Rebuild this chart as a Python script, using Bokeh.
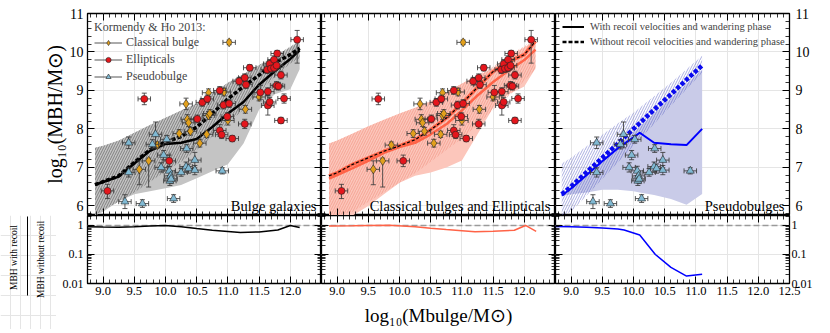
import numpy as np
import pandas as pd
from bokeh.plotting import figure
from bokeh.layouts import column, row
from bokeh.models import (ColumnDataSource, Range1d, LinearAxis, LogAxis, FixedTicker,
                          CustomJSTickFormatter, NumeralTickFormatter, Span, Label,
                          Legend, LegendItem)
from bokeh.core.properties import value
from bokeh.embed import file_html
from bokeh.resources import INLINE

# ---------------- data ----------------
# Kormendy & Ho 2013: classical bulges
cb_x = [9.58, 9.73, 9.87, 10.22, 10.33, 10.35, 10.37, 10.40, 10.55, 10.66, 10.69, 10.71, 10.69, 10.94, 11.00, 11.02, 11.28, 11.50]
cb_y = [6.95, 7.17, 7.58, 7.88, 8.65, 8.25, 8.16, 7.94, 7.63, 7.86, 8.35, 8.40, 8.94, 8.96, 8.22, 10.25, 8.51, 8.83]
cb_elo = [0.40, 0.68, 0.08, 0.10, 0.15, 0.12, 0.10, 0.10, 0.10, 0.08, 0.10, 0.10, 0.10, 0.10, 0.12, 0.06, 0.10, 0.10]
cb_ehi = [0.22, 0.07, 0.08, 0.10, 0.15, 0.12, 0.10, 0.10, 0.10, 0.08, 0.10, 0.10, 0.10, 0.10, 0.12, 0.06, 0.10, 0.10]

# ellipticals
el_x = [9.07, 9.66, 10.06, 10.51, 10.59, 10.67, 10.87, 10.87, 10.90, 10.93, 10.99, 11.02, 11.07, 11.18, 11.27,
        11.27, 11.29, 11.35, 11.52, 11.63, 11.64, 11.64, 11.67, 11.67, 11.69, 11.74, 11.74, 11.78, 11.78, 11.79,
        11.81, 11.85, 11.85, 11.90, 12.11]
el_y = [6.39, 8.78, 7.17, 8.26, 8.69, 8.78, 9.00, 7.96, 7.85, 8.62, 8.32, 8.66, 7.75, 9.24, 9.33,
        8.13, 9.15, 9.59, 8.95, 9.54, 8.97, 8.61, 8.70, 9.69, 9.57, 9.80, 9.59, 9.65, 9.13, 9.96,
        9.11, 9.40, 8.22, 8.79, 10.32]
el_elo = [0.20, 0.15, 0.15, 0.10, 0.10, 0.10, 0.10, 0.15, 0.10, 0.10, 0.10, 0.10, 0.08, 0.10, 0.10,
          0.12, 0.10, 0.08, 0.18, 0.10, 0.10, 0.25, 0.12, 0.10, 0.10, 0.10, 0.10, 0.10, 0.10, 0.08,
          0.10, 0.10, 0.08, 0.12, 0.61]
el_ehi = [0.17, 0.15, 0.15, 0.10, 0.10, 0.10, 0.10, 0.15, 0.10, 0.10, 0.10, 0.10, 0.08, 0.10, 0.10,
          0.12, 0.10, 0.08, 0.18, 0.10, 0.10, 0.25, 0.12, 0.10, 0.10, 0.10, 0.10, 0.10, 0.10, 0.08,
          0.10, 0.10, 0.08, 0.12, 0.24]

# pseudobulges
pb_x = [9.35, 9.41, 9.41, 9.63, 9.79, 9.84, 9.93, 9.97, 10.02, 10.06, 10.08, 10.07, 10.09, 10.13, 10.25,
        10.34, 10.33, 10.37, 10.47, 10.47, 10.91]
pb_y = [6.11, 7.64, 6.87, 6.06, 7.60, 7.86, 7.00, 7.32, 7.73, 6.91, 6.78, 6.65, 6.70, 6.19, 6.87,
        7.49, 7.02, 6.97, 7.19, 6.93, 6.91]
pb_elo = [0.18, 0.15, 0.12, 0.10, 0.12, 0.35, 0.12, 0.12, 0.10, 0.12, 0.12, 0.12, 0.12, 0.10, 0.10,
          0.10, 0.12, 0.12, 0.20, 0.12, 0.08]
pb_ehi = [0.18, 0.15, 0.12, 0.10, 0.12, 0.32, 0.12, 0.12, 0.10, 0.12, 0.12, 0.12, 0.12, 0.10, 0.10,
          0.10, 0.12, 0.12, 0.20, 0.12, 0.08]
x_err = 0.1

# model, bulge galaxies (panel 1)
m1_x = [8.87, 9.0, 9.25, 9.5, 9.75, 10.0, 10.25, 10.5, 10.75, 11.0, 11.25, 11.5, 11.75, 12.0, 12.15]
m1_with = [6.55, 6.62, 6.76, 7.10, 7.43, 7.61, 7.64, 7.74, 8.05, 8.40, 8.70, 9.15, 9.50, 9.82, 10.04]
m1_without = [6.55, 6.63, 6.78, 7.13, 7.46, 7.66, 7.80, 8.05, 8.40, 8.78, 9.10, 9.40, 9.72, 9.93, 10.10]
m1_with_hi = [7.51, 7.56, 7.70, 7.90, 8.10, 8.29, 8.48, 8.66, 8.92, 9.20, 9.43, 9.66, 9.88, 10.12, 10.28]
m1_with_lo = [5.75, 5.85, 6.12, 6.30, 6.38, 6.46, 6.54, 6.72, 6.90, 7.08, 7.62, 8.50, 8.90, 9.03, 9.55]
m1_wo_hi = [7.51, 7.56, 7.70, 7.90, 8.10, 8.29, 8.48, 8.66, 8.92, 9.20, 9.43, 9.66, 9.90, 10.14, 10.32]
m1_wo_lo = [5.75, 5.90, 6.10, 6.35, 6.62, 6.90, 7.15, 7.45, 7.80, 8.15, 8.50, 8.95, 9.35, 9.70, 9.84]

# model, classical bulges and ellipticals (panel 2)
m2_x = [8.87, 9.0, 9.25, 9.5, 9.75, 10.0, 10.25, 10.5, 10.75, 11.0, 11.25, 11.5, 11.75, 12.0, 12.18]
m2_with = [6.71, 6.80, 6.98, 7.17, 7.38, 7.53, 7.64, 7.86, 8.12, 8.48, 8.87, 9.22, 9.52, 9.79, 10.06]
m2_without = [6.78, 6.86, 7.08, 7.25, 7.42, 7.56, 7.72, 7.98, 8.28, 8.66, 9.08, 9.49, 9.75, 9.93, 10.28]
m2_with_hi = [7.62, 7.70, 7.88, 8.07, 8.24, 8.40, 8.55, 8.72, 8.95, 9.18, 9.38, 9.58, 9.88, 10.12, 10.30]
m2_with_lo = [5.75, 5.75, 5.75, 6.00, 6.30, 6.60, 6.78, 6.87, 7.00, 7.18, 7.86, 8.55, 8.90, 9.10, 9.58]
m2_wo_hi = [7.62, 7.70, 7.88, 8.07, 8.24, 8.40, 8.55, 8.72, 8.95, 9.18, 9.40, 9.62, 9.92, 10.15, 10.38]
m2_wo_lo = [5.75, 5.75, 5.85, 6.10, 6.35, 6.60, 6.85, 7.15, 7.45, 7.75, 8.10, 8.50, 8.85, 9.25, 9.55]

# model, pseudobulges (panel 3)
m3_x = [8.85, 9.0, 9.25, 9.5, 9.75, 10.0, 10.1, 10.33, 10.6, 10.85, 11.1]
m3_with = [6.27, 6.45, 6.80, 7.16, 7.50, 7.78, 7.90, 7.64, 7.60, 7.58, 8.00]
m3_without = [6.30, 6.50, 6.88, 7.25, 7.62, 8.00, 8.15, 8.50, 8.90, 9.28, 9.65]
m3_with_hi = [6.30, 6.50, 6.85, 7.20, 7.55, 7.90, 8.05, 8.40, 8.80, 9.17, 9.54]
m3_with_lo = [6.25, 6.30, 6.35, 6.42, 6.42, 6.38, 6.35, 6.28, 6.18, 6.03, 6.31]
m3_wo_hi = [7.10, 7.25, 7.55, 7.85, 8.15, 8.42, 8.55, 8.85, 9.20, 9.55, 9.90]
m3_wo_lo = [5.75, 5.85, 6.27, 6.70, 7.13, 7.56, 7.73, 8.13, 8.60, 9.03, 9.46]

# ratio M_BH(with recoil) / M_BH(without recoil)
r1_x = [8.75, 9.0, 9.25, 9.5, 9.75, 10.0, 10.25, 10.5, 10.75, 11.0, 11.2, 11.5, 11.8, 12.0, 12.15]
r1 = [0.91, 0.88, 0.87, 0.90, 0.95, 1.00, 0.90, 0.78, 0.68, 0.62, 0.57, 0.60, 0.70, 1.00, 0.85]
r2_x = [8.87, 9.25, 9.5, 9.84, 10.25, 10.5, 10.75, 11.0, 11.21, 11.5, 11.84, 12.02, 12.19]
r2 = [0.95, 0.97, 1.00, 1.02, 0.90, 0.80, 0.72, 0.66, 0.61, 0.63, 0.68, 1.00, 0.62]
r3_x = [8.75, 9.0, 9.25, 9.5, 9.75, 9.85, 10.1, 10.35, 10.6, 10.85, 11.1]
r3 = [0.92, 0.90, 0.86, 0.82, 0.75, 0.70, 0.47, 0.10, 0.036, 0.018, 0.021]

# ticks
x_major = [9.0, 9.5, 10.0, 10.5, 11.0, 11.5, 12.0, 12.5]
x_minor = [round(8.8 + 0.1 * i, 1) for i in range(38)]
y_major = [6, 7, 8, 9, 10, 11]
y_minor = [round(5.8 + 0.2 * i, 1) for i in range(27)]
r_major = [0.01, 0.1, 1.0]
r_minor = [k * 10.0 ** e for e in (-2, -1, 0) for k in range(2, 10)]

panel_names = ["Bulge galaxies", "Classical bulges and Ellipticals", "Pseudobulges"]
ratio_texts = ["MBH with recoil", "MBH without recoil"]

# ---------------- style ----------------
SERIF = "Liberation Serif"
X_LIM = (8.75, 12.5)
Y_TOP = (5.75, 11.0)
Y_BOT = (0.01, 2.2)
FW, TH, BH, BB = 234, 202, 68, 46
LAB_W = 56
CB_C, EL_C, PB_C = "#E2A01C", "#E5161C", "#80B9D3"
EB_C = "#3a3a3a"
BLANK = CustomJSTickFormatter(code="return ''")


def make_fig(top, col):
    left = 0
    if col == 0:
        left = 87 if top else 87 - LAB_W
    p = figure(frame_width=FW, frame_height=TH if top else BH,
               x_range=Range1d(*X_LIM), y_range=Range1d(*(Y_TOP if top else Y_BOT)),
               y_axis_type="linear" if top else "log",
               x_axis_location=None, y_axis_location=None,
               output_backend="svg", toolbar_location=None,
               min_border_left=left,
               min_border_right=38 if col == 2 else 0,
               min_border_top=13 if top else 0,
               min_border_bottom=0 if top else BB)
    p.outline_line_color = "black"
    p.outline_line_width = 1.3
    p.background_fill_color = "white"
    p.border_fill_color = "white"
    return p


def add_axis(p, side, log, major, minor, labels, fixed=None, fmt=None, fsize="12px"):
    ax = (LogAxis if log else LinearAxis)(ticker=FixedTicker(ticks=major, minor_ticks=minor))
    if fixed is not None:
        ax.fixed_location = fixed
    ax.axis_line_color = None
    ax.major_tick_in, ax.major_tick_out = 7, 0
    ax.minor_tick_in, ax.minor_tick_out = 4, 0
    ax.major_tick_line_color = "black"
    ax.minor_tick_line_color = "black"
    ax.major_tick_line_width = 1
    ax.minor_tick_line_width = 0.8
    ax.major_label_text_font = SERIF
    ax.major_label_text_font_size = fsize
    ax.major_label_text_color = "black"
    ax.major_label_standoff = 4
    ax.axis_label_text_font = SERIF
    ax.axis_label_text_font_style = "normal"
    ax.axis_label_text_color = "black"
    if not labels:
        ax.formatter = BLANK
    elif fmt is not None:
        ax.formatter = fmt
    p.add_layout(ax, side)
    return ax


def add_points(p, x, y, elo, ehi, marker, color, size):
    x = np.asarray(x, float)
    y = np.asarray(y, float)
    df = pd.DataFrame(dict(x=x, y=y, ylo=y - np.asarray(elo), yhi=y + np.asarray(ehi),
                           xlo=x - x_err, xhi=x + x_err))
    src = ColumnDataSource(df)
    rx = p.segment("xlo", "y", "xhi", "y", source=src, line_color=EB_C, line_width=1, line_alpha=0.85)
    p.segment("x", "ylo", "x", "yhi", source=src, line_color=EB_C, line_width=1, line_alpha=0.85)
    for col in ("ylo", "yhi"):
        p.scatter("x", col, source=src, marker="dash", size=5, line_color=EB_C, line_width=1, line_alpha=0.85)
    for col in ("xlo", "xhi"):
        p.scatter(col, "y", source=src, marker="dash", angle=np.pi / 2, size=5, line_color=EB_C,
                  line_width=1, line_alpha=0.85)
    rm = p.scatter("x", "y", source=src, marker=marker, size=size, fill_color=color,
                   line_color="#222222", line_width=0.6)
    return [rx, rm]


def panel_label(p, text):
    p.add_layout(Label(x=X_LIM[1] - 0.08, y=5.99, text=text, text_align="right",
                       text_baseline="alphabetic", text_font=SERIF, text_font_size="14.5px",
                       text_color="black"))


tops = [make_fig(True, c) for c in range(3)]
bots = [make_fig(False, c) for c in range(3)]

# axes
for c, p in enumerate(tops):
    add_axis(p, "below", False, x_major, x_minor, False, fixed=Y_TOP[0])
    add_axis(p, "above", False, x_major, x_minor, False, fixed=Y_TOP[1])
    if c == 0:
        ay = add_axis(p, "left", False, y_major, y_minor, True, fsize="14px")
        ay.axis_label = "log\u2081\u2080(MBH/M\u2299)"
        ay.axis_label_text_font_size = "20px"
        ay.axis_label_standoff = 1
    else:
        add_axis(p, "left", False, y_major, y_minor, False, fixed=X_LIM[0])
    if c == 2:
        add_axis(p, "right", False, y_major, y_minor, True, fsize="14px").major_label_standoff = 6
    else:
        add_axis(p, "right", False, y_major, y_minor, False, fixed=X_LIM[1])

ratio_fmt = CustomJSTickFormatter(code="return tick >= 1 ? tick.toFixed(0) : (tick >= 0.1 ? tick.toFixed(1) : tick.toFixed(2));")
for c, p in enumerate(bots):
    xm = x_major if c == 2 else x_major[:-1]
    axb = add_axis(p, "below", False, xm, x_minor, True, fmt=NumeralTickFormatter(format="0.0"), fsize="12.5px")
    axb.major_label_standoff = 3
    if c == 1:
        axb.axis_label = "log\u2081\u2080(Mbulge/M\u2299)"
        axb.axis_label_text_font_size = "19px"
        axb.axis_label_standoff = 7
    add_axis(p, "above", False, x_major, x_minor, False, fixed=Y_BOT[1])
    if c == 0:
        add_axis(p, "left", True, r_major, r_minor, True, fmt=ratio_fmt, fsize="12px")
    else:
        add_axis(p, "left", True, r_major, r_minor, False, fixed=X_LIM[0])
    if c == 2:
        add_axis(p, "right", True, r_major, r_minor, True, fmt=ratio_fmt, fsize="12px").major_label_standoff = 2
    else:
        add_axis(p, "right", True, r_major, r_minor, False, fixed=X_LIM[1])
    p.add_layout(Span(location=1, dimension="width", line_color="#9a9a9a", line_dash="6 3",
                      line_width=1.5, level="underlay"))

# ratio-axis label (numerator over denominator) in a small text-only figure
lab = figure(frame_width=LAB_W, frame_height=BH + BB, x_range=Range1d(0, LAB_W),
             y_range=Range1d(BH + BB, 0), x_axis_location=None, y_axis_location=None,
             output_backend="svg", toolbar_location=None,
             min_border_left=0, min_border_right=0, min_border_top=0, min_border_bottom=0)
lab.outline_line_color = None
lab.background_fill_color = "white"
lab.border_fill_color = "white"
lab.text(x=[13, 40], y=[42, 44], text=ratio_texts, angle=np.pi / 2, text_align="center",
         text_baseline="middle", text_font=value(SERIF), text_font_size="9.5px", text_color="black")
lab.segment(x0=[27], y0=[1], x1=[27], y1=[80], line_color="black", line_width=1)

# ---------- panel 1: bulge galaxies ----------
p1 = tops[0]
p1.varea(x=m1_x, y1=m1_with_lo, y2=m1_with_hi, fill_color="#c4c4c4", fill_alpha=1.0)
p1.varea(x=m1_x, y1=m1_wo_lo, y2=m1_wo_hi, fill_color=None, fill_alpha=0,
         hatch_pattern="/", hatch_color="#4a4a4a", hatch_scale=5, hatch_weight=0.7, hatch_alpha=0.8)
p1.line(m1_x, m1_with, line_color="black", line_width=2.5)
p1.line(m1_x, m1_without, line_color="black", line_width=3.5, line_dash="4 2")
r_cb = add_points(p1, cb_x, cb_y, cb_elo, cb_ehi, "diamond", CB_C, 9)
r_el = add_points(p1, el_x, el_y, el_elo, el_ehi, "circle", EL_C, 7)
r_pb = add_points(p1, pb_x, pb_y, pb_elo, pb_ehi, "triangle", PB_C, 8)
leg1 = Legend(items=[LegendItem(label="Classical bulge", renderers=r_cb),
                     LegendItem(label="Ellipticals", renderers=r_el),
                     LegendItem(label="Pseudobulge", renderers=r_pb)],
              location="top_left", title="Kormendy & Ho 2013:")
panel_label(p1, panel_names[0])

# ---------- panel 2: classical bulges and ellipticals ----------
p2 = tops[1]
p2.varea(x=m2_x, y1=m2_with_lo, y2=m2_with_hi, fill_color="#fcc6bb", fill_alpha=1.0)
p2.varea(x=m2_x, y1=m2_wo_lo, y2=m2_wo_hi, fill_color=None, fill_alpha=0,
         hatch_pattern="/", hatch_color="#f08a78", hatch_scale=5, hatch_weight=0.7, hatch_alpha=0.8)
p2.line(m2_x, m2_with, line_color="#ff6347", line_width=2.5)
p2.line(m2_x, m2_without, line_color="#ff6347", line_width=3.5)
p2.line(m2_x, m2_without, line_color="black", line_width=1.2, line_dash="3 2")
add_points(p2, cb_x, cb_y, cb_elo, cb_ehi, "diamond", CB_C, 9)
add_points(p2, el_x, el_y, el_elo, el_ehi, "circle", EL_C, 7)
panel_label(p2, panel_names[1])

# ---------- panel 3: pseudobulges ----------
p3 = tops[2]
p3.varea(x=m3_x, y1=m3_with_lo, y2=m3_with_hi, fill_color="#c9cbe8", fill_alpha=1.0)
p3.varea(x=m3_x, y1=m3_wo_lo, y2=m3_wo_hi, fill_color=None, fill_alpha=0,
         hatch_pattern="/", hatch_color="#4f55c0", hatch_scale=5, hatch_weight=0.6, hatch_alpha=0.8)
p3.line(m3_x, m3_with, line_color="#0000ff", line_width=2)
p3.line(m3_x, m3_without, line_color="#0a0aee", line_width=4.5, line_dash="4 2")
add_points(p3, pb_x, pb_y, pb_elo, pb_ehi, "triangle", PB_C, 8)
legend_src = ColumnDataSource(dict(x=[np.nan], y=[np.nan]))
l_with = p3.line("x", "y", source=legend_src, line_color="black", line_width=2)
l_without = p3.line("x", "y", source=legend_src, line_color="black", line_width=2.5, line_dash="4 2")
leg3 = Legend(items=[LegendItem(label="With recoil velocities and wandering phase", renderers=[l_with]),
                     LegendItem(label="Without recoil velocities and wandering phase", renderers=[l_without])],
              location="top_left")
panel_label(p3, panel_names[2])

for lg, fs in ((leg1, "12px"), (leg3, "10.5px")):
    lg.background_fill_alpha = 0
    lg.border_line_alpha = 0
    lg.label_text_font = SERIF
    lg.label_text_font_size = fs
    lg.title_text_font = SERIF
    lg.title_text_font_size = "12px"
    lg.title_text_font_style = "normal"
    lg.title_standoff = 0
    lg.glyph_height = 13
    lg.label_height = 13
    lg.spacing = 2
    lg.padding = 3
leg1.glyph_width, leg1.label_standoff, leg1.margin = 28, 4, 4
leg3.glyph_width, leg3.label_standoff, leg3.margin = 22, 6, 4
p1.add_layout(leg1)
p3.add_layout(leg3)

# ---------- ratio panels ----------
bots[0].line(r1_x, r1, line_color="black", line_width=1.5)
bots[1].line(r2_x, r2, line_color="#ff6347", line_width=1.5)
bots[2].line(r3_x, r3, line_color="#0000ff", line_width=1.5)

layout = column(row(*tops), row(lab, *bots))
open("out.html", "w").write(file_html(layout, INLINE))
